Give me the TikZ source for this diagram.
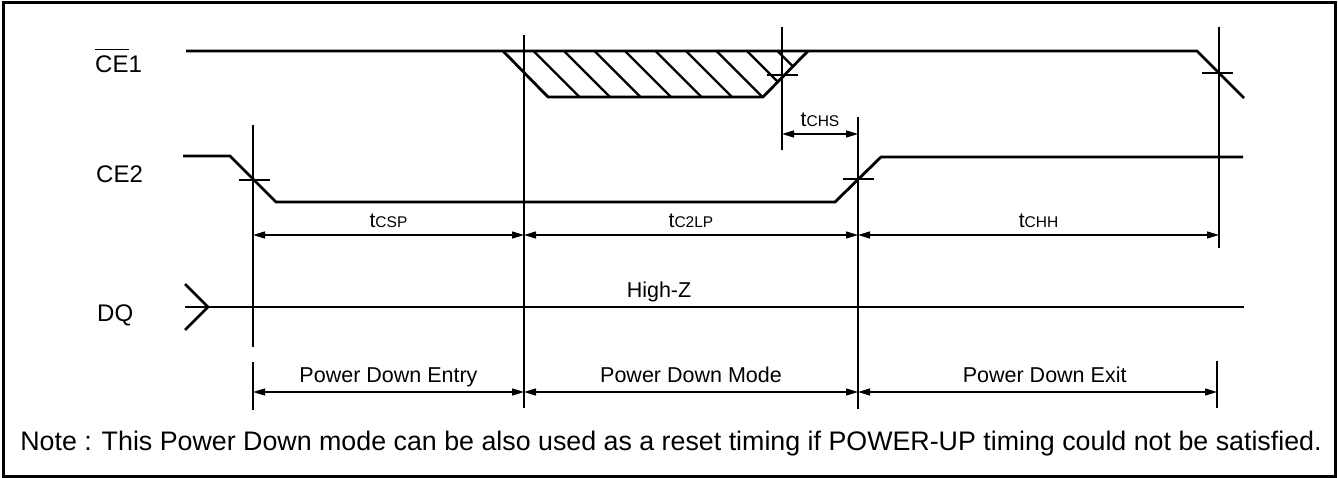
\documentclass[tikz,border=0pt]{standalone}
\usepackage{fontspec}
\setmainfont{Liberation Sans}
\usetikzlibrary{arrows.meta, positioning}

\newsavebox{\sigbox}
\newcommand{\sigbar}[1]{\sbox{\sigbox}{#1}\rlap{\raisebox{\dimexpr\ht\sigbox+6pt\relax}{\rule{\wd\sigbox}{1.4pt}}}\usebox{\sigbox}}

\begin{document}
\begin{tikzpicture}[
    x=1pt, y=-1pt,
    signal/.style={line width=2.8pt, line join=miter},
    guide/.style={line width=1.3pt},
    hatch/.style={line width=2.4pt},
    dim/.style={{Triangle[length=12pt,width=7pt]}-{Triangle[length=12pt,width=7pt]}, line width=1.4pt},
    signame/.style={font=\fontsize{24}{26}\selectfont, inner sep=0pt, anchor=base west},
    tlabel/.style={font=\fontsize{21}{24}\selectfont, inner sep=0pt, anchor=base, yshift=7.5pt},
    phaselabel/.style={font=\fontsize{21.5}{24}\selectfont, inner sep=0pt, anchor=base, yshift=9.5pt}
]
    \useasboundingbox (0,0) rectangle (1338,478);
    \draw[line width=3pt] (3,2.5) rectangle (1335,476.5);

    \coordinate (entry) at (253,0);
    \coordinate (mode) at (524,0);
    \coordinate (exit) at (858,0);
    \coordinate (done) at (1219,0);
    \coordinate (setup) at (782,0);
    \coordinate (chsrow) at (0,134);
    \coordinate (trow) at (0,235);
    \coordinate (prow) at (0,392);

    \node[signame] (ce1) at (95,73) {\sigbar{CE}1};
    \node[signame] (ce2) at (96,183) {CE2};
    \node[signame] (dq) at (97,321) {DQ};

    % CE1 with don't-care window
    \draw[signal] (186,51) -- (1197,51) -- (1244,98);
    \begin{scope}
        \clip (503,51) -- (548,97) -- (763,97) -- (808,51) -- cycle;
        \foreach \k in {1,...,9}
            \draw[hatch] ({503+30.5*\k},51) -- ++(50,50);
    \end{scope}
    \draw[signal] (503,51) -- (548,97) -- (763,97) -- (808,51);

    \draw[signal] (183,156) -- (230,156) -- (276,202) -- (835,202) -- (881,157) -- (1243,157);

    \draw[signal] (185,307) -- (1244,307);
    \draw[signal] (185,284) -- (208,307) -- (185,330);
    \node[font=\fontsize{21.5}{24}\selectfont, inner sep=0pt, anchor=base] (highz) at (659,298) {High-Z};

    \draw[guide] (253,125) -- (253,347);
    \draw[guide] (253,362) -- (253,410);
    \draw[guide] (524,35) -- (524,408);
    \draw[guide] (858,117) -- (858,409);
    \draw[guide] (1219,27) -- (1219,248);
    \draw[guide] (1217,361) -- (1217,408);
    \draw[guide] (782,27) -- (782,150);

    \draw[guide] (767,75) -- (798,75);
    \draw[guide] (1202,73) -- (1233,73);
    \draw[guide] (239,180) -- (270,180);
    \draw[guide] (843,179) -- (874,179);

    \draw[dim] (setup |- chsrow) -- node[tlabel] (tchs) {t{\fontsize{15.5}{16}\selectfont CHS}} (exit |- chsrow);
    \draw[dim] (entry |- trow) -- node[tlabel] (tcsp) {t{\fontsize{15.5}{16}\selectfont CSP}} (mode |- trow);
    \draw[dim] (mode |- trow) -- node[tlabel] (tc2lp) {t{\fontsize{15.5}{16}\selectfont C2LP}} (exit |- trow);
    \draw[dim] (exit |- trow) -- node[tlabel] (tchh) {t{\fontsize{15.5}{16}\selectfont CHH}} (done |- trow);

    \draw[dim] (entry |- prow) -- node[phaselabel] (pdentry) {Power Down Entry} (mode |- prow);
    \draw[dim] (mode |- prow) -- node[phaselabel] (pdmode) {Power Down Mode} (exit |- prow);
    \draw[dim] (exit |- prow) -- node[phaselabel, pos=0.52] (pdexit) {Power Down Exit} (1217,392);

    \node[font=\fontsize{26.8}{30}\selectfont, inner sep=0pt, anchor=base] (note) at (671,450) {Note : This Power Down mode can be also used as a reset timing if POWER-UP timing could not be satisfied.};
\end{tikzpicture}
\end{document}
